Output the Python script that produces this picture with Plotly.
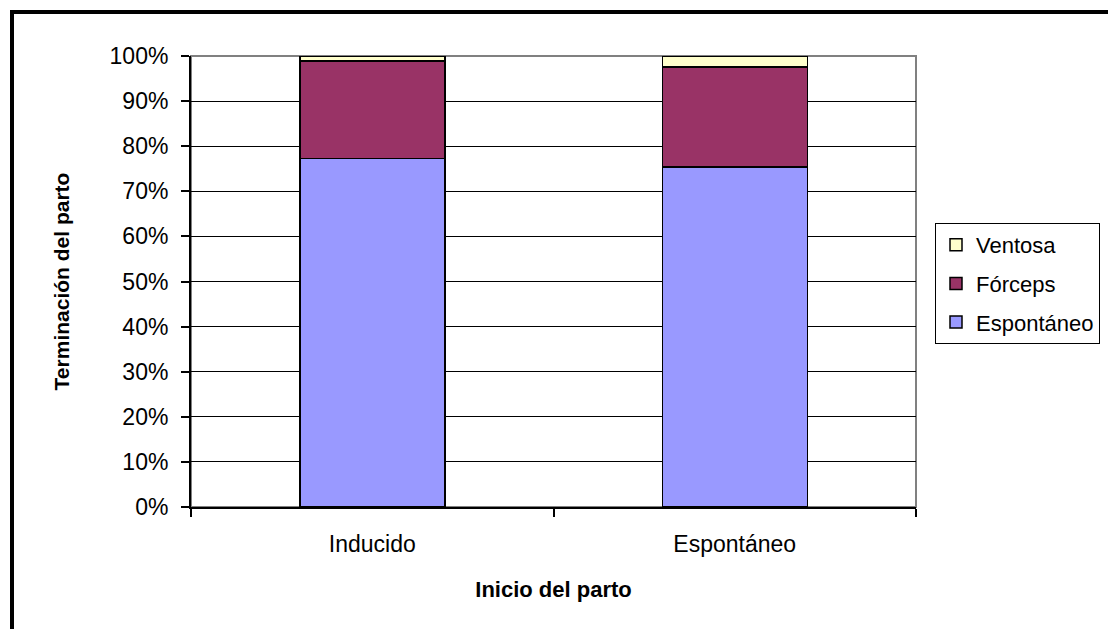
import plotly.graph_objects as go

# Delivery onset categories and share of each delivery ending (%)
categories = ["Inducido", "Espontáneo"]
espontaneo = [77.3, 75.4]
forceps = [21.6, 22.2]
ventosa = [1.1, 2.4]

y_ticks = list(range(0, 101, 10))
y_ticktext = [f"{v}%" for v in y_ticks]

FONT = "Arial, 'Liberation Sans', sans-serif"
W, H = 1108, 629
L, R, T, B = 191, 192, 56, 122
pw, ph = W - L - R, H - T - B


def px_x(px):
    return (px - L) / pw


def px_y(py):
    return (H - B - py) / ph


fig = go.Figure()
series = [
    ("Espontáneo", espontaneo, "#9999FF", 3),
    ("Fórceps", forceps, "#993366", 2),
    ("Ventosa", ventosa, "#FFFFCC", 1),
]
for name, vals, color, rank in series:
    fig.add_trace(go.Bar(
        x=categories, y=vals, name=name, legendgroup=name, legendrank=rank,
        marker=dict(color=color, line=dict(color="black", width=1.5)),
    ))

# chart frame and gray plot-area border
fig.add_shape(type="rect", xref="paper", yref="paper",
              x0=px_x(12), x1=px_x(1120), y0=px_y(640), y1=px_y(12),
              line=dict(color="black", width=4), layer="above")
fig.add_shape(type="rect", xref="paper", yref="paper",
              x0=0, x1=1, y0=0, y1=1,
              line=dict(color="#808080", width=2), layer="between")

fig.update_layout(
    width=W, height=H,
    margin=dict(l=L, r=R, t=T, b=B, autoexpand=False),
    barmode="stack", bargap=0.6,
    paper_bgcolor="white", plot_bgcolor="white",
    font=dict(family=FONT, size=23, color="black"),
    showlegend=True,
    legend=dict(
        x=px_x(935), y=px_y(223), xanchor="left", yanchor="top",
        traceorder="grouped", tracegroupgap=7,
        bordercolor="black", borderwidth=1,
        font=dict(size=22), itemwidth=30,
    ),
    xaxis=dict(
        type="category", tickson="boundaries", ticks="outside",
        ticklen=8, tickwidth=1.5, tickcolor="black",
        showline=True, linecolor="black", linewidth=2,
        showgrid=False, ticklabelstandoff=15,
        title=dict(text="<b>Inicio del parto</b>", standoff=26,
                   font=dict(size=22)),
    ),
    yaxis=dict(
        range=[0, 100], tickvals=y_ticks, ticktext=y_ticktext,
        ticks="outside", ticklen=8, tickwidth=1.5, tickcolor="black",
        showline=True, linecolor="black", linewidth=2,
        showgrid=True, gridcolor="black", gridwidth=1,
        zeroline=False, ticklabelstandoff=8,
        title=dict(text="<b>Terminación del parto</b>", standoff=34,
                   font=dict(size=21)),
    ),
)

fig.write_html("out.html")
